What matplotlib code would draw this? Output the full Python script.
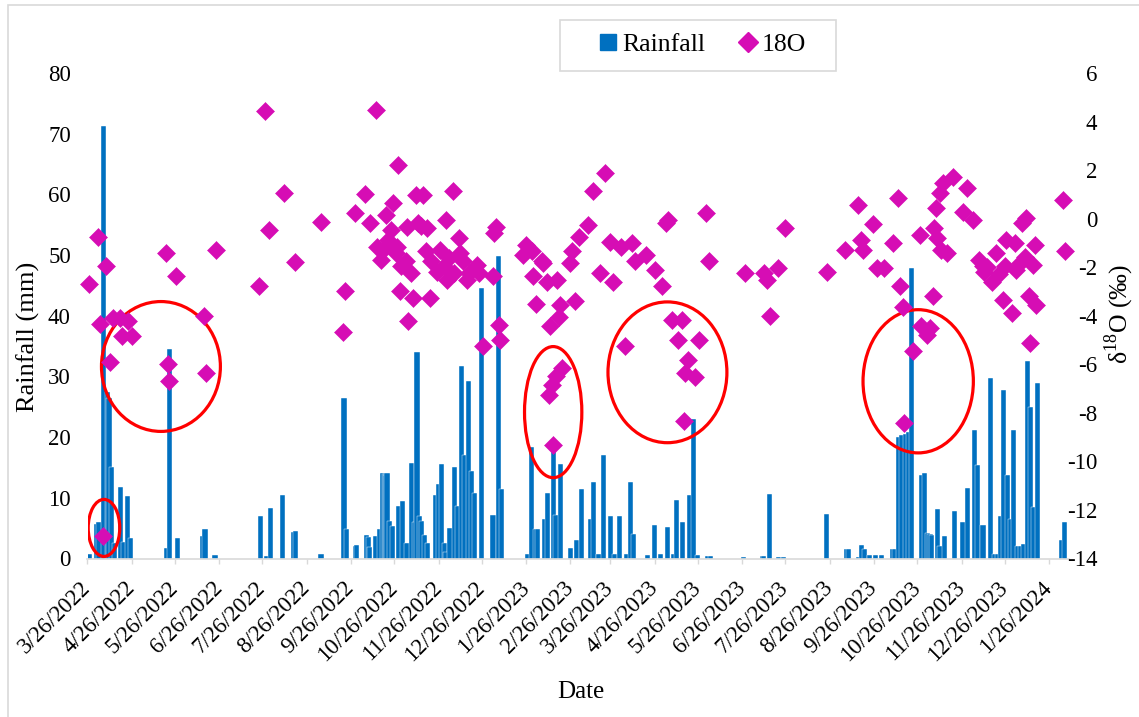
import matplotlib
matplotlib.use("Agg")
import matplotlib.pyplot as plt
import matplotlib.dates as mdates
from matplotlib.patches import Ellipse, Rectangle
from matplotlib.lines import Line2D
import pandas as pd

# daily rainfall (mm)
rain_dates = [
    "2022-03-27", "2022-04-01", "2022-04-03", "2022-04-06", "2022-04-09", "2022-04-10",
    "2022-04-12", "2022-04-14", "2022-04-18", "2022-04-20", "2022-04-23", "2022-04-25",
    "2022-05-20", "2022-05-22", "2022-05-28", "2022-06-14", "2022-06-16", "2022-06-23",
    "2022-07-25", "2022-07-29", "2022-08-01", "2022-08-09", "2022-08-17", "2022-08-18",
    "2022-09-05", "2022-09-21", "2022-09-23", "2022-09-29", "2022-09-30", "2022-10-07",
    "2022-10-08", "2022-10-09", "2022-10-13", "2022-10-16", "2022-10-18", "2022-10-19",
    "2022-10-20", "2022-10-21", "2022-10-23", "2022-10-25", "2022-10-29", "2022-11-01",
    "2022-11-04", "2022-11-07", "2022-11-09", "2022-11-11", "2022-11-13", "2022-11-14",
    "2022-11-16", "2022-11-18", "2022-11-24", "2022-11-26", "2022-11-28", "2022-11-30",
    "2022-12-01", "2022-12-04", "2022-12-07", "2022-12-09", "2022-12-12", "2022-12-14",
    "2022-12-17", "2022-12-19", "2022-12-21", "2022-12-26", "2023-01-03", "2023-01-07",
    "2023-01-09", "2023-01-27", "2023-01-30", "2023-02-02", "2023-02-03", "2023-02-08",
    "2023-02-10", "2023-02-14", "2023-02-16", "2023-02-19", "2023-02-26", "2023-03-02",
    "2023-03-06", "2023-03-12", "2023-03-14", "2023-03-18", "2023-03-21", "2023-03-26",
    "2023-03-29", "2023-04-01", "2023-04-06", "2023-04-09", "2023-04-11", "2023-04-21",
    "2023-04-26", "2023-04-30", "2023-05-05", "2023-05-09", "2023-05-11", "2023-05-15",
    "2023-05-20", "2023-05-23", "2023-05-26", "2023-06-02", "2023-06-04", "2023-06-27",
    "2023-07-10", "2023-07-11", "2023-07-15", "2023-07-21", "2023-07-25", "2023-08-24",
    "2023-09-07", "2023-09-08", "2023-09-15", "2023-09-17", "2023-09-19", "2023-09-23",
    "2023-09-27", "2023-10-01", "2023-10-09", "2023-10-10", "2023-10-13", "2023-10-15",
    "2023-10-18", "2023-10-20", "2023-10-22", "2023-10-29", "2023-10-31", "2023-11-02",
    "2023-11-04", "2023-11-05", "2023-11-09", "2023-11-11", "2023-11-14", "2023-11-21",
    "2023-11-27", "2023-11-30", "2023-12-05", "2023-12-07", "2023-12-11", "2023-12-16",
    "2023-12-19", "2023-12-21", "2023-12-23", "2023-12-25", "2023-12-28", "2023-12-30",
    "2024-01-01", "2024-01-04", "2024-01-06", "2024-01-08", "2024-01-11", "2024-01-13",
    "2024-01-15", "2024-01-18", "2024-02-04", "2024-02-06",
]
rain_mm = [
    0.8, 5.7, 6.0, 71.3, 27.5, 26.5,
    15.0, 2.5, 11.8, 2.8, 10.3, 3.4,
    1.8, 34.5, 3.4, 3.7, 4.9, 0.5,
    7.0, 0.4, 8.3, 10.4, 4.3, 4.6,
    0.8, 26.4, 4.9, 2.0, 2.3, 3.8,
    3.5, 1.9, 3.7, 4.9, 14.1, 14.0,
    13.8, 14.1, 6.1, 5.3, 8.7, 9.5,
    2.6, 15.7, 6.0, 34.1, 7.0, 6.1,
    3.8, 2.6, 10.5, 12.3, 15.6, 2.5,
    1.0, 5.0, 15.1, 8.6, 31.7, 17.0,
    29.2, 14.4, 10.8, 44.6, 7.1, 49.9,
    11.5, 0.8, 18.3, 4.8, 4.9, 6.5,
    10.8, 17.9, 7.1, 15.6, 1.8, 3.1,
    11.5, 6.5, 12.6, 0.8, 17.1, 7.0,
    0.8, 7.0, 0.8, 12.6, 4.1, 0.5,
    5.6, 0.8, 5.2, 0.8, 9.6, 6.0,
    10.4, 23.0, 0.5, 0.4, 0.4, 0.3,
    0.4, 0.4, 10.7, 0.3, 0.3, 7.4,
    1.6, 1.5, 0.3, 2.3, 1.5, 0.5,
    0.5, 0.5, 1.5, 1.6, 20.0, 20.3,
    20.5, 20.8, 47.8, 13.8, 14.1, 4.2,
    4.0, 3.8, 8.2, 2.0, 3.7, 7.8,
    6.0, 11.6, 21.2, 15.4, 5.5, 29.7,
    0.8, 0.8, 7.0, 27.8, 13.7, 6.5,
    21.2, 2.1, 2.1, 2.4, 32.5, 24.9,
    8.5, 28.9, 3.0, 6.0,
]

# delta 18O of rain samples (permil)
o18_dates = [
    "2022-03-27", "2022-04-02", "2022-04-04", "2022-04-06", "2022-04-08", "2022-04-11",
    "2022-04-13", "2022-04-18", "2022-04-19", "2022-04-23", "2022-04-26", "2022-05-20",
    "2022-05-21", "2022-05-22", "2022-05-27", "2022-06-15", "2022-06-17", "2022-06-24",
    "2022-07-24", "2022-07-28", "2022-07-31", "2022-08-10", "2022-08-18", "2022-09-05",
    "2022-09-20", "2022-09-22", "2022-09-29", "2022-10-06", "2022-10-09", "2022-10-13",
    "2022-10-14", "2022-10-17", "2022-10-18", "2022-10-20", "2022-10-22", "2022-10-24",
    "2022-10-25", "2022-10-27", "2022-10-28", "2022-10-29", "2022-10-30", "2022-10-31",
    "2022-11-03", "2022-11-04", "2022-11-05", "2022-11-07", "2022-11-08", "2022-11-10",
    "2022-11-12", "2022-11-14", "2022-11-15", "2022-11-17", "2022-11-18", "2022-11-20",
    "2022-11-21", "2022-11-25", "2022-11-27", "2022-11-30", "2022-12-01", "2022-12-02",
    "2022-12-03", "2022-12-06", "2022-12-07", "2022-12-10", "2022-12-11", "2022-12-13",
    "2022-12-16", "2022-12-17", "2022-12-23", "2022-12-24", "2022-12-27", "2023-01-03",
    "2023-01-04", "2023-01-05", "2023-01-07", "2023-01-08", "2023-01-24", "2023-01-26",
    "2023-01-30", "2023-01-31", "2023-02-02", "2023-02-06", "2023-02-07", "2023-02-10",
    "2023-02-11", "2023-02-12", "2023-02-13", "2023-02-14", "2023-02-16", "2023-02-17",
    "2023-02-18", "2023-02-19", "2023-02-20", "2023-02-26", "2023-02-27", "2023-03-01",
    "2023-03-04", "2023-03-10", "2023-03-14", "2023-03-19", "2023-03-22", "2023-03-26",
    "2023-03-28", "2023-04-02", "2023-04-05", "2023-04-10", "2023-04-12", "2023-04-20",
    "2023-04-26", "2023-05-01", "2023-05-04", "2023-05-05", "2023-05-08", "2023-05-12",
    "2023-05-15", "2023-05-16", "2023-05-17", "2023-05-19", "2023-05-24", "2023-05-27",
    "2023-06-01", "2023-06-03", "2023-06-28", "2023-07-11", "2023-07-13", "2023-07-15",
    "2023-07-21", "2023-07-26", "2023-08-24", "2023-09-06", "2023-09-15", "2023-09-17",
    "2023-09-18", "2023-09-25", "2023-09-28", "2023-10-03", "2023-10-09", "2023-10-13",
    "2023-10-14", "2023-10-16", "2023-10-17", "2023-10-23", "2023-10-28", "2023-10-29",
    "2023-11-02", "2023-11-04", "2023-11-06", "2023-11-07", "2023-11-08", "2023-11-09",
    "2023-11-11", "2023-11-12", "2023-11-13", "2023-11-16", "2023-11-20", "2023-11-27",
    "2023-11-30", "2023-12-04", "2023-12-08", "2023-12-11", "2023-12-12", "2023-12-14",
    "2023-12-17", "2023-12-20", "2023-12-22", "2023-12-25", "2023-12-26", "2023-12-27",
    "2023-12-31", "2024-01-02", "2024-01-03", "2024-01-06", "2024-01-07", "2024-01-09",
    "2024-01-10", "2024-01-12", "2024-01-13", "2024-01-15", "2024-01-16", "2024-01-17",
    "2024-02-05", "2024-02-06",
]
o18_permil = [
    -2.68, -0.74, -4.34, -13.08, -1.97, -5.92,
    -4.10, -4.10, -4.85, -4.23, -4.85, -1.40,
    -5.99, -6.70, -2.35, -4.03, -6.36, -1.31,
    -2.79, 4.44, -0.46, 1.07, -1.80, -0.14,
    -4.67, -3.00, 0.23, 1.02, -0.19, 4.48,
    -1.15, -1.70, -1.28, 0.16, -0.87, -0.46,
    0.64, -1.42, -1.15, 2.21, -3.00, -1.97,
    -1.76, -0.33, -4.23, -2.24, -3.27, 0.98,
    -0.19, -0.30, 0.98, -1.35, -0.39, -3.27,
    -1.76, -2.18, -1.28, -1.97, -0.05, -2.52,
    -1.63, 1.12, -2.24, -0.80, -1.42, -1.76,
    -2.52, -2.24, -1.90, -2.24, -5.23, -2.38,
    -0.60, -0.33, -4.37, -4.99, -1.49, -1.08,
    -1.35, -2.38, -3.53, -1.76, -1.83, -2.59,
    -7.25, -4.44, -6.84, -9.31, -6.50, -2.52,
    -4.05, -3.55, -6.15, -1.83, -1.35, -3.39,
    -0.77, -0.28, 1.14, -2.24, 1.87, -0.98,
    -2.59, -1.15, -5.23, -1.01, -1.76, -1.49,
    -2.11, -2.79, -0.19, -0.05, -4.16, -4.99,
    -4.16, -8.35, -6.36, -5.81, -6.54, -4.99,
    0.23, -1.76, -2.22, -2.24, -2.52, -4.00,
    -2.04, -0.37, -2.20, -1.28, 0.57, -0.87,
    -1.28, -0.21, -2.04, -2.04, -1.01, 0.84,
    -2.77, -3.66, -8.42, -5.47, -0.67, -4.44,
    -4.78, -4.51, -3.18, -0.39, 0.43, -0.80,
    1.05, -1.28, 1.46, -1.42, 1.73, 0.29,
    1.26, -0.05, -1.70, -1.95, -2.18, -2.00,
    -2.59, -1.42, -2.30, -3.34, -1.97, -0.87,
    -3.89, -1.01, -2.10, -1.83, -0.19, -1.60,
    0.02, -3.18, -5.12, -1.90, -1.08, -3.55,
    0.77, -1.35,
]

# red rings marking the depleted events (centre date, centre value, width in days, height in permil)
ring_centres = ["2022-04-06 12:00", "2022-05-16 06:00", "2023-02-14 00:00",
                "2023-05-04 18:00", "2023-10-26 18:00"]
ring_o18 = [-12.74, -6.09, -7.97, -6.33, -6.70]
ring_width_days = [22, 83, 40, 83, 77]
ring_height = [2.35, 5.35, 5.4, 5.8, 5.9]

month_ticks = pd.date_range("2022-03-26", "2024-01-26", freq=pd.DateOffset(months=1))

BLUE = "#0070c0"
MAGENTA = "#d60db4"
GRID = "#d9d9d9"
W, H = 1139, 717

plt.rcParams["font.family"] = ["Liberation Serif", "DejaVu Serif"]
plt.rcParams["mathtext.fontset"] = "custom"
plt.rcParams["mathtext.rm"] = "Liberation Serif"
plt.rcParams["axes.unicode_minus"] = False

fig = plt.figure(figsize=(W / 100, H / 100), dpi=100)
ax = fig.add_axes([87.5 / W, 1 - 558.5 / H, (1069 - 87.5) / W, (558.5 - 73) / H])
ax2 = ax.twinx()

# outer frame of the chart area
fig.patches.append(Rectangle((8 / W, -0.01), 1.0, 1 - 5 / H + 0.01, transform=fig.transFigure,
                             fill=False, edgecolor=GRID, linewidth=1.2, zorder=0))

x_rain = mdates.date2num(pd.to_datetime(rain_dates))
ax.bar(x_rain, rain_mm, width=3.6, color=BLUE, edgecolor="white", linewidth=0.3, zorder=2)

x_o18 = mdates.date2num(pd.to_datetime(o18_dates))
for c, v, w, h in zip(ring_centres, ring_o18, ring_width_days, ring_height):
    cx = mdates.date2num(pd.Timestamp(c))
    ax2.add_patch(Ellipse((cx, v), w, h, fill=False, edgecolor="red", linewidth=2.3, zorder=1))
ax2.plot(x_o18, o18_permil, linestyle="none", marker="D", markersize=9.6,
         color=MAGENTA, markeredgecolor=MAGENTA, markeredgewidth=0.4, zorder=3, clip_on=False)

ax.set_xlim(mdates.date2num(pd.Timestamp("2022-03-26")), mdates.date2num(pd.Timestamp("2024-02-09")))
ax.set_ylim(0, 80)
ax.set_yticks(range(0, 81, 10))
ax2.set_ylim(-14, 6)
ax2.set_yticks(range(-14, 7, 2))
for lab in ax2.get_yticklabels():
    lab.set_horizontalalignment("right")

ax.set_xticks(mdates.date2num(month_ticks))
ax.set_xticklabels([f"{d.month}/{d.day}/{d.year}" for d in month_ticks],
                   rotation=45, ha="right", va="center", rotation_mode="anchor")

for a in (ax, ax2):
    for side in ("top", "left", "right"):
        a.spines[side].set_visible(False)
ax2.spines["bottom"].set_visible(False)
ax.spines["bottom"].set_color(GRID)
ax.spines["bottom"].set_linewidth(1.2)

ax.tick_params(axis="x", direction="out", length=3.6, width=1, color=GRID,
               labelsize=16.5, pad=15.5)
ax.tick_params(axis="y", length=0, labelsize=16.5, pad=12)
ax2.tick_params(axis="y", length=0, labelsize=16.5, pad=20.5)

fig.text(28 / W, 1 - 337 / H, "Rainfall (mm)", rotation=90, ha="center", va="center", fontsize=19)
fig.text(1119 / W, 1 - 314 / H, r"δ$^{18}$O (‰)", rotation=90, ha="center", va="center", fontsize=18.5)
fig.text(581 / W, 1 - 692 / H, "Date", ha="center", va="center", fontsize=18)

# legend with a boxed frame
fig.patches.append(Rectangle((560 / W, 1 - 71 / H), 276 / W, 51 / H, transform=fig.transFigure,
                             facecolor="white", edgecolor=GRID, linewidth=1.2, zorder=1))
handles = [
    Line2D([], [], linestyle="none", marker="s", markersize=11.5, color=BLUE),
    Line2D([], [], linestyle="none", marker="D", markersize=10, color=MAGENTA),
]
fig.legend(handles, ["Rainfall", "18O"], loc="center", bbox_to_anchor=(702 / W, 1 - 45 / H),
           ncol=2, frameon=False, fontsize=18.5, handlelength=0.8, handletextpad=0.15,
           columnspacing=1.25, borderpad=0.2)

fig.savefig("out.png", dpi=100)
